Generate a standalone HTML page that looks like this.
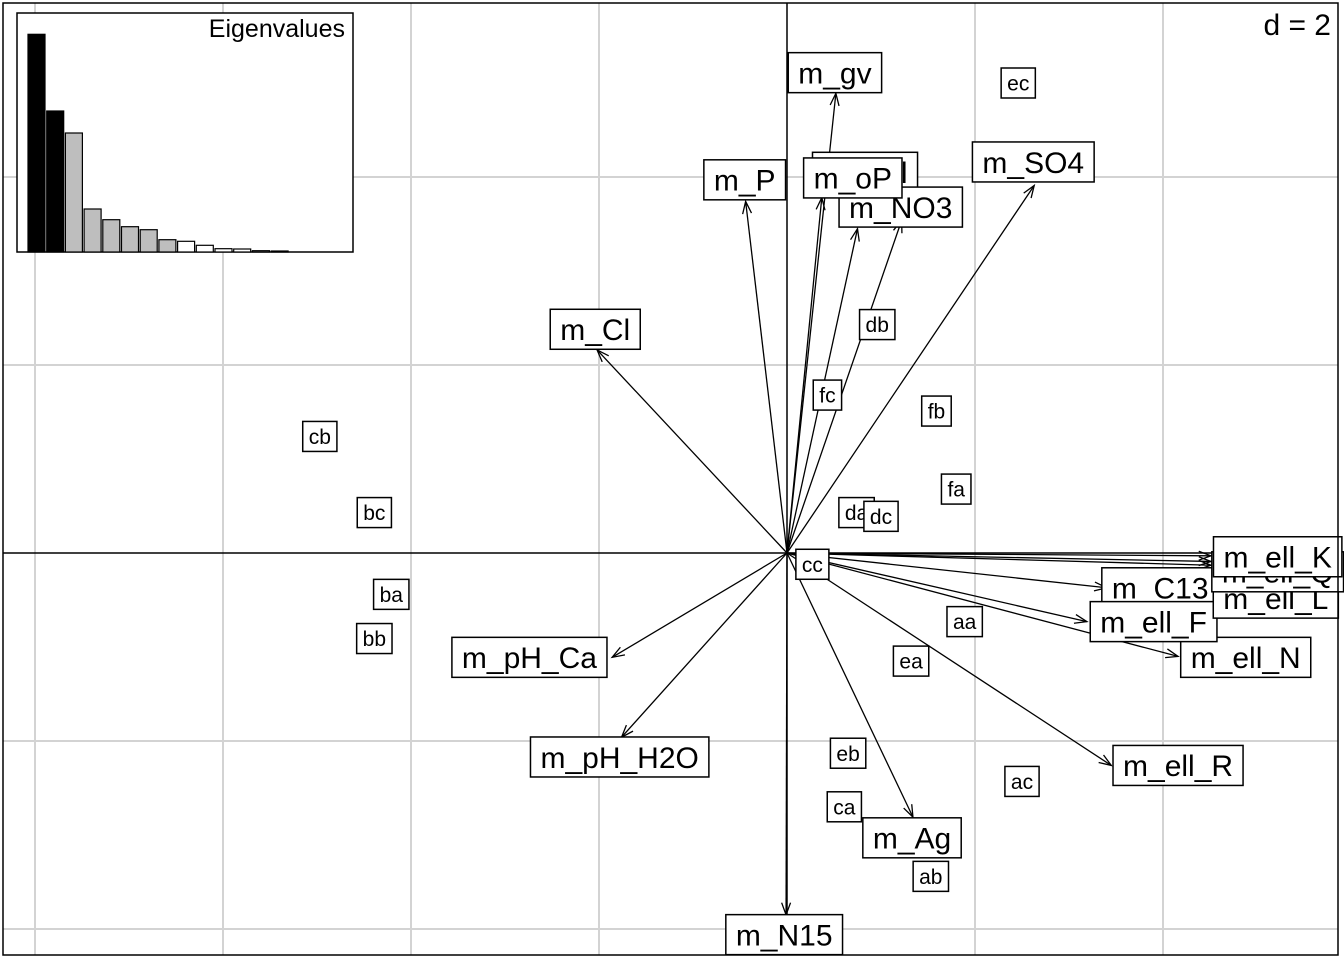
<!DOCTYPE html>
<html><head><meta charset="utf-8"><style>
html,body{margin:0;padding:0;background:#fff;}
svg{display:block;font-family:"Liberation Sans",Arial,sans-serif;}
</style></head><body>
<svg id="chart" width="1344" height="960" viewBox="0 0 1344 960" xmlns="http://www.w3.org/2000/svg">
<rect x="0" y="0" width="1344" height="960" fill="#fff"/>
<g id="grid"></g><g id="axes"></g><g id="arrows"></g><g id="points"></g><g id="vars"></g>
<rect x="3" y="3" width="1335" height="952" fill="none" stroke="#000" stroke-width="1.5"/>
<text x="1331" y="35" font-size="30" text-anchor="end">d = 2</text>
<g id="inset"></g>
</svg>
<script>
const NS="http://www.w3.org/2000/svg";
// data (units of d)
const varNames=["m_oPl","m_NO3","m_oP","m_gv","m_P","m_SO4","m_Cl","m_pH_Ca","m_pH_H2O","m_N15","m_Ag","m_ell_R","m_ell_N","m_C13","m_ell_F","m_ell_L","m_ell_Q","m_ell_K"];
const varX=[0.75,1.22,0.37,0.52,-0.44,2.63,-2.02,-1.86,-1.76,-0.01,1.34,3.45,4.16,3.40,3.19,4.51,4.51,4.51];
const varY=[3.45,3.54,3.78,4.89,3.74,3.91,2.16,-1.11,-1.96,-3.85,-2.81,-2.26,-1.10,-0.37,-0.73,-0.13,-0.09,-0.03];
const labX=[0.83,1.21,0.70,0.51,-0.45,2.62,-2.04,-2.74,-1.78,-0.03,1.33,4.16,4.88,3.97,3.90,5.20,5.22,5.22];
const labY=[4.05,3.68,3.99,5.11,3.97,4.16,2.38,-1.11,-2.17,-4.06,-3.03,-2.26,-1.11,-0.37,-0.73,-0.48,-0.20,-0.04];
const ptNames=["ec","db","fc","fb","fa","da","dc","cc","cb","bc","ba","bb","aa","ea","eb","ac","ca","ab"];
const ptX=[2.46,0.96,0.43,1.59,1.80,0.74,1.00,0.27,-4.97,-4.39,-4.21,-4.39,1.89,1.32,0.65,2.50,0.61,1.53];
const ptY=[5.00,2.43,1.68,1.51,0.68,0.43,0.39,-0.12,1.24,0.43,-0.44,-0.91,-0.73,-1.15,-2.13,-2.43,-2.70,-3.44];
const eigen=[217.7,141,119,43,32.3,25.3,22.3,12.3,10.7,6.7,3.3,3,1.3,1];
const nAxes=2, nGray=6;

const OX=787,OY=553,U=94;
const sx=v=>OX+v*U, sy=v=>OY-v*U;
function mk(tag,attrs,parent){const e=document.createElementNS(NS,tag);for(const k in attrs)e.setAttribute(k,attrs[k]);parent.appendChild(e);return e;}
const G=id=>document.getElementById(id);

for(let k=-4;k<=3;k++){const x=OX+188*k;if(k===0)continue;
 const l=mk('line',{x1:x,y1:3,x2:x,y2:955,stroke:'#d3d3d3','stroke-width':2},G('grid'));
 }
for(let k=-2;k<=2;k++){const y=OY+188*k;if(k===0)continue;
 const l=mk('line',{x1:3,y1:y,x2:1338,y2:y,stroke:'#d3d3d3','stroke-width':2},G('grid'));
 }
let a1=mk('line',{x1:3,y1:OY,x2:1338,y2:OY,stroke:'#000','stroke-width':1.5},G('axes'));

let a2=mk('line',{x1:OX,y1:3,x2:OX,y2:955,stroke:'#000','stroke-width':1.5},G('axes'));


varNames.forEach((n,i)=>{
 const x=sx(varX[i]),y=sy(varY[i]);
 const g=mk('g',{},G('arrows'));
 
 
 mk('line',{x1:OX,y1:OY,x2:x,y2:y,stroke:'#000','stroke-width':1.3},g);
 const ang=Math.atan2(y-OY,x-OX),L=13,w=0.35;
 const p=`M${x-L*Math.cos(ang-w)},${y-L*Math.sin(ang-w)} L${x},${y} L${x-L*Math.cos(ang+w)},${y-L*Math.sin(ang+w)}`;
 mk('path',{d:p,fill:'none',stroke:'#000','stroke-width':1.3},g);
});

function label(parent,txt,cx,cy,fs,pad,h,name){
 const g=mk('g',{},parent);
 
 
 const r=mk('rect',{fill:'#fff',stroke:'#000','stroke-width':1.5},g);
 const t=mk('text',{x:cx,y:cy+fs*0.36,'font-size':fs,'text-anchor':'middle'},g);
 t.textContent=txt;
 const w=t.getComputedTextLength()+2*pad;
 r.setAttribute('x',cx-w/2);r.setAttribute('y',cy-h/2);r.setAttribute('width',w);r.setAttribute('height',h);
}
ptNames.forEach((n,i)=>label(G('points'),n,sx(ptX[i]),sy(ptY[i]),21,6,30,'point-label-'+n));
varNames.forEach((n,i)=>label(G('vars'),n,sx(labX[i]),sy(labY[i]),30,10,40,'variable-label-'+n.replace(/_/g,'-').toLowerCase()));

const ins=G('inset');
let fr=mk('rect',{x:17,y:13,width:336,height:239,fill:'#fff',stroke:'#000','stroke-width':1.5},ins);

let et=mk('text',{x:345,y:37,'font-size':25,'text-anchor':'end'},ins);
et.textContent='Eigenvalues';

const base=252,bx0=28,bstep=18.7,bw=17,hmax=217.7;
const maxE=Math.max(...eigen);
eigen.forEach((v,i)=>{
 const h=v/maxE*hmax;
 const fill=i<nAxes?'#000':(i<nAxes+nGray?'#bebebe':'#fff');
 const b=mk('rect',{x:bx0+i*bstep,y:base-h,width:bw,height:h,fill:fill,stroke:'#000','stroke-width':1.2},ins);
 
 
});
</script>
</body></html>
